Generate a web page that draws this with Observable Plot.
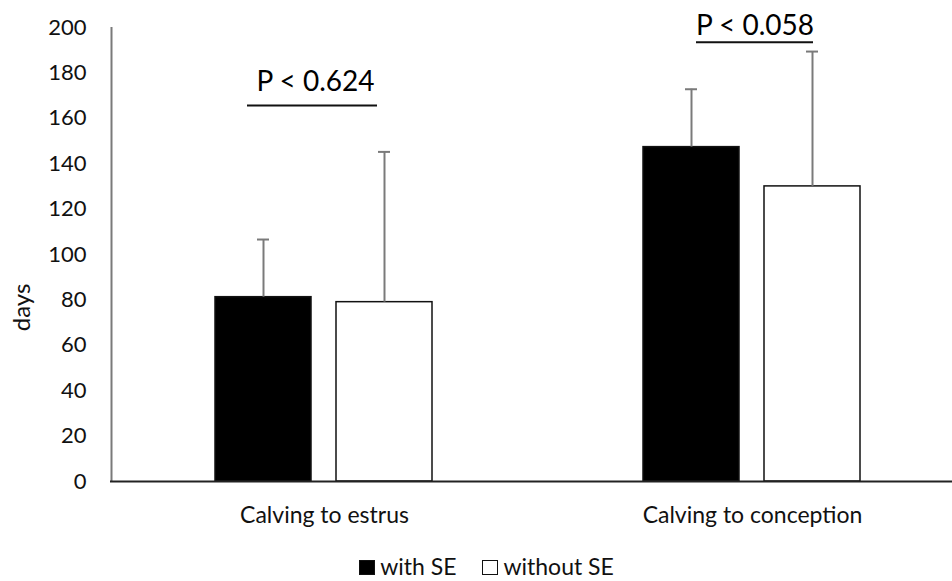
<!DOCTYPE html>
<html><head><meta charset="utf-8">
<script src="https://cdn.jsdelivr.net/npm/d3@7"></script>
<script src="https://cdn.jsdelivr.net/npm/@observablehq/plot@0.6"></script>
<style>
html,body{margin:0;padding:0;background:#fff;overflow:hidden}
body{font-family:Lato,"Open Sans",sans-serif;color:#111}
#legend{display:flex;justify-content:center;align-items:baseline;font-size:23px;margin-top:14px;padding-left:21px;line-height:25px}
.sw{display:inline-block;width:16px;height:15px;box-sizing:border-box;margin-right:5px;border:1.5px solid #111}
.item{margin:0 13px;display:flex;align-items:baseline}
</style></head><body><div id="chart"></div><div id="legend"></div>
<script>
const categories = ["Calving to estrus", "Calving to conception"];
const seriesNames = ["with SE", "without SE"];
const seriesFill = ["#000000", "#ffffff"];
const withSE = [81.2, 147.3];
const withSEErrTop = [106.6, 172.8];
const withoutSE = [79, 130];
const withoutSEErrTop = [145.2, 189.4];
const pLabels = ["P < 0.624", "P < 0.058"];
const pLineY = [165.6, 193.5];
const pTextY = [172, 196.5];
const yTicks = [0, 20, 40, 60, 80, 100, 120, 140, 160, 180, 200];
const yLabel = "days";

const rows = categories.flatMap((c, i) => [
  {category: c, series: seriesNames[0], value: withSE[i], top: withSEErrTop[i]},
  {category: c, series: seriesNames[1], value: withoutSE[i], top: withoutSEErrTop[i]}
]);
const pRows = categories.map((c, i) => ({category: c, label: pLabels[i], lineY: pLineY[i], textY: pTextY[i]}));

const gray = "#7a7a7a";
const plot = Plot.plot({
  width: 952, height: 540,
  marginLeft: 110, marginRight: 0, marginTop: 27, marginBottom: 59,
  style: {fontFamily: "Lato, 'Open Sans', sans-serif", fontSize: "20px", color: "#111", background: "#fff"},
  fx: {domain: categories, range: [110, 966], paddingInner: 0, paddingOuter: 0, label: null},
  x: {domain: seriesNames, paddingInner: 0.205, paddingOuter: 0.857, axis: null},
  y: {domain: [0, 200], label: null},
  color: {domain: seriesNames, range: seriesFill},
  marks: [
    Plot.axisFx({anchor: "bottom", tickSize: 0, tickPadding: 25, label: null, fontSize: 23}),
    Plot.axisY({ticks: yTicks, tickSize: 0, tickPadding: 24, label: null, fontSize: 22}),
    Plot.ruleX([yLabel].map(() => ({category: categories[0]})), {fx: "category", x: () => seriesNames[0], y1: 0, y2: 200, stroke: gray, strokeWidth: 2, dx: -152}),
    Plot.text([yLabel], {fx: () => categories[0], text: d => d, frameAnchor: "left", rotate: -90, dx: -88, dy: 53, fontSize: 24, lineAnchor: "middle", textAnchor: "middle"}),
    Plot.barY(rows, {fx: "category", x: "series", y: "value", fill: "series", stroke: "#111", strokeWidth: 1.5}),
    Plot.ruleX(rows, {fx: "category", x: "series", y1: "value", y2: "top", stroke: gray, strokeWidth: 2}),
    Plot.tickY(rows, {fx: "category", x: "series", y: "top", stroke: gray, strokeWidth: 2, insetLeft: 42, insetRight: 42}),
    Plot.ruleY([0], {stroke: "#222", strokeWidth: 2}),
    Plot.text([pRows[0]], {fx: "category", y: "textY", text: "label", lineAnchor: "bottom", fontSize: 28, dx: -9, fill: "#000"}),
    Plot.ruleY([pRows[0]], {fx: "category", y: "lineY", stroke: "#111", strokeWidth: 2, insetLeft: 137, insetRight: 161}),
    Plot.text([pRows[1]], {fx: "category", y: "textY", text: "label", lineAnchor: "bottom", fontSize: 28, dx: 2.5, fill: "#000"}),
    Plot.ruleY([pRows[1]], {fx: "category", y: "lineY", stroke: "#111", strokeWidth: 2, insetLeft: 158, insetRight: 153})
  ]
});
document.getElementById("chart").appendChild(plot);

const legend = d3.select("#legend");
seriesNames.forEach((s, i) => {
  const it = legend.append("span").attr("class", "item");
  it.append("span").attr("class", "sw").style("background", seriesFill[i]);
  it.append("span").text(s);
});
</script></body></html>
